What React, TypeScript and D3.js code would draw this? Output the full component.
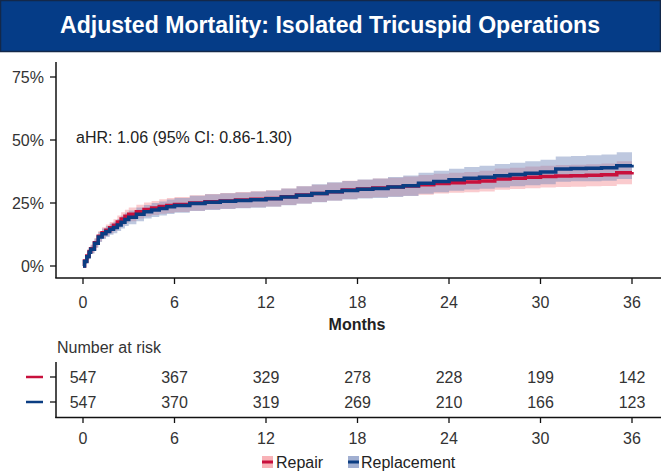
import { useEffect, useRef } from "react"
import * as d3 from "d3"

const W = 661, H = 472

const months = [0, 0.1, 0.25, 0.4, 0.5, 0.75, 1, 1.25, 1.5, 1.75, 2, 2.25, 2.5, 2.75, 3, 3.5, 4, 4.5, 5, 5.5, 6,
  7, 8, 9, 10, 11, 12, 13, 14, 15, 16, 17, 18, 19, 20, 21, 22, 23, 24, 25, 26, 27, 28, 29, 30, 31, 32, 33, 34, 35, 36]

const repair = [0, 0.02, 0.04, 0.058, 0.068, 0.092, 0.118, 0.132, 0.142, 0.152, 0.162, 0.175, 0.187, 0.197, 0.205, 0.215, 0.224, 0.23, 0.236, 0.24, 0.244,
  0.25, 0.255, 0.258, 0.262, 0.265, 0.268, 0.275, 0.282, 0.288, 0.295, 0.302, 0.306, 0.31, 0.313, 0.317, 0.322, 0.327, 0.33, 0.333, 0.337, 0.345, 0.348, 0.352, 0.355, 0.357, 0.358, 0.36, 0.362, 0.37, 0.373]
const repairLo = [0, 0.01, 0.026, 0.042, 0.051, 0.073, 0.097, 0.11, 0.12, 0.13, 0.139, 0.151, 0.162, 0.171, 0.178, 0.188, 0.196, 0.202, 0.207, 0.21, 0.214,
  0.219, 0.224, 0.227, 0.23, 0.233, 0.236, 0.242, 0.248, 0.254, 0.26, 0.266, 0.27, 0.273, 0.276, 0.279, 0.283, 0.288, 0.291, 0.293, 0.296, 0.303, 0.306, 0.309, 0.312, 0.313, 0.314, 0.316, 0.317, 0.324, 0.327]
const repairHi = [0, 0.03, 0.054, 0.074, 0.085, 0.111, 0.139, 0.154, 0.165, 0.175, 0.186, 0.2, 0.213, 0.223, 0.232, 0.243, 0.252, 0.258, 0.265, 0.27, 0.274,
  0.281, 0.286, 0.29, 0.294, 0.297, 0.301, 0.308, 0.316, 0.322, 0.33, 0.338, 0.342, 0.347, 0.35, 0.355, 0.361, 0.366, 0.37, 0.373, 0.378, 0.387, 0.39, 0.395, 0.398, 0.401, 0.402, 0.404, 0.407, 0.416, 0.419]

const replacement = [0, 0.018, 0.037, 0.055, 0.066, 0.09, 0.115, 0.128, 0.137, 0.146, 0.153, 0.163, 0.174, 0.185, 0.193, 0.205, 0.215, 0.222, 0.228, 0.235, 0.24,
  0.248, 0.253, 0.257, 0.26, 0.263, 0.267, 0.274, 0.281, 0.288, 0.295, 0.3, 0.305, 0.308, 0.313, 0.318, 0.328, 0.335, 0.342, 0.348, 0.352, 0.358, 0.363, 0.368, 0.373, 0.385, 0.387, 0.388, 0.39, 0.398, 0.402]
const replacementLo = [0, 0.008, 0.024, 0.04, 0.05, 0.072, 0.095, 0.107, 0.115, 0.124, 0.13, 0.139, 0.149, 0.159, 0.166, 0.178, 0.188, 0.194, 0.2, 0.206, 0.211,
  0.218, 0.222, 0.226, 0.229, 0.231, 0.235, 0.241, 0.247, 0.253, 0.259, 0.264, 0.268, 0.27, 0.274, 0.278, 0.287, 0.293, 0.299, 0.304, 0.307, 0.312, 0.316, 0.32, 0.324, 0.334, 0.336, 0.336, 0.338, 0.345, 0.348]
const replacementHi = [0, 0.028, 0.05, 0.07, 0.082, 0.108, 0.135, 0.149, 0.159, 0.168, 0.176, 0.187, 0.199, 0.211, 0.22, 0.232, 0.242, 0.25, 0.256, 0.264, 0.27,
  0.279, 0.285, 0.289, 0.292, 0.296, 0.3, 0.308, 0.316, 0.324, 0.332, 0.337, 0.343, 0.347, 0.353, 0.359, 0.37, 0.378, 0.386, 0.393, 0.398, 0.405, 0.41, 0.416, 0.422, 0.435, 0.437, 0.439, 0.442, 0.451, 0.455]

const xTicks = [0, 6, 12, 18, 24, 30, 36]
const yTicks = [0, 0.25, 0.5, 0.75]
const riskRepair = [547, 367, 329, 278, 228, 199, 142]
const riskReplacement = [547, 370, 319, 269, 210, 166, 123]

const groups = [
  { name: "Repair", est: repair, lo: repairLo, hi: repairHi, line: "#c8103c", fill: "#f3838a", op: 0.42 },
  { name: "Replacement", est: replacement, lo: replacementLo, hi: replacementHi, line: "#0b3d82", fill: "#6f84b8", op: 0.45 },
]

const font = "'Liberation Sans', Arial, Helvetica, sans-serif"

export default function App() {
  const ref = useRef<SVGSVGElement>(null)

  useEffect(() => {
    const svg = d3.select(ref.current!)
    svg.selectAll("*").remove()
    svg.style("font-family", font)

    // title bar
    svg.append("rect").attr("x", 0.5).attr("y", 0.5).attr("width", W - 1).attr("height", 51)
      .attr("fill", "#053c87").attr("stroke", "#13284a").attr("stroke-width", 1.5)
    svg.append("text").attr("x", 330).attr("y", 33).attr("text-anchor", "middle")
      .attr("fill", "#fff").attr("font-weight", "bold").attr("font-size", 23)
      .attr("textLength", 540).attr("lengthAdjust", "spacingAndGlyphs")
      .text("Adjusted Mortality: Isolated Tricuspid Operations")

    const x = d3.scaleLinear().domain([0, 36]).range([83, 632])
    const y = d3.scaleLinear().domain([0, 0.75]).range([266, 77])

    // confidence bands
    groups.forEach(g => {
      const area = d3.area<number>().curve(d3.curveStepAfter)
        .x((_, i) => x(months[i])).y0((_, i) => y(g.lo[i])).y1((_, i) => y(g.hi[i]))
      svg.append("path").attr("d", area(g.est) || "").attr("fill", g.fill).attr("fill-opacity", g.op)
    })
    groups.forEach(g => {
      const line = d3.line<number>().curve(d3.curveStepAfter)
        .x((_, i) => x(months[i])).y(d => y(d))
      svg.append("path").attr("d", line(g.est) || "").attr("fill", "none")
        .attr("stroke", g.line).attr("stroke-width", 3.5)
    })

    // axes
    const ax = "#111"
    svg.append("line").attr("x1", 56).attr("x2", 56).attr("y1", 62).attr("y2", 278).attr("stroke", ax).attr("stroke-width", 1.5)
    svg.append("line").attr("x1", 55.25).attr("x2", W).attr("y1", 278).attr("y2", 278).attr("stroke", ax).attr("stroke-width", 1.5)
    yTicks.forEach(t => {
      svg.append("line").attr("x1", 50).attr("x2", 56).attr("y1", y(t)).attr("y2", y(t)).attr("stroke", ax).attr("stroke-width", 1.3)
      svg.append("text").attr("x", 44).attr("y", y(t) + 6).attr("text-anchor", "end")
        .attr("font-size", 16).attr("fill", "#333").text(`${Math.round(t * 100)}%`)
    })
    xTicks.forEach(t => {
      svg.append("line").attr("x1", x(t)).attr("x2", x(t)).attr("y1", 278).attr("y2", 284).attr("stroke", ax).attr("stroke-width", 1.3)
      svg.append("text").attr("x", x(t)).attr("y", 308).attr("text-anchor", "middle")
        .attr("font-size", 16).attr("fill", "#333").text(t)
    })
    svg.append("text").attr("x", 357).attr("y", 330).attr("text-anchor", "middle")
      .attr("font-size", 16).attr("font-weight", "bold").attr("fill", "#222").text("Months")

    svg.append("text").attr("x", 76).attr("y", 143).attr("font-size", 16).attr("fill", "#222")
      .text("aHR: 1.06 (95% CI: 0.86-1.30)")

    // risk table
    svg.append("text").attr("x", 57).attr("y", 353).attr("font-size", 16).attr("fill", "#333").text("Number at risk")
    svg.append("line").attr("x1", 56).attr("x2", 56).attr("y1", 362).attr("y2", 418).attr("stroke", ax).attr("stroke-width", 1.5)
    svg.append("line").attr("x1", 55.25).attr("x2", W).attr("y1", 417.5).attr("y2", 417.5).attr("stroke", ax).attr("stroke-width", 1.5)
    const rows = [riskRepair, riskReplacement]
    const rowY = [377, 402]
    rows.forEach((r, j) => {
      svg.append("line").attr("x1", 26).attr("x2", 43).attr("y1", rowY[j]).attr("y2", rowY[j])
        .attr("stroke", groups[j].line).attr("stroke-width", 2.5)
      svg.append("line").attr("x1", 50).attr("x2", 56).attr("y1", rowY[j]).attr("y2", rowY[j]).attr("stroke", ax).attr("stroke-width", 1.3)
      r.forEach((v, i) => {
        svg.append("text").attr("x", x(xTicks[i])).attr("y", rowY[j] + 6).attr("text-anchor", "middle")
          .attr("font-size", 16).attr("fill", "#333").text(v)
      })
    })
    xTicks.forEach(t => {
      svg.append("line").attr("x1", x(t)).attr("x2", x(t)).attr("y1", 417).attr("y2", 423).attr("stroke", ax).attr("stroke-width", 1.3)
      svg.append("text").attr("x", x(t)).attr("y", 444).attr("text-anchor", "middle")
        .attr("font-size", 16).attr("fill", "#333").text(t)
    })

    // legend
    const leg = [{ g: groups[0], sx: 262, tx: 276 }, { g: groups[1], sx: 348, tx: 361 }]
    leg.forEach(({ g, sx, tx }) => {
      svg.append("rect").attr("x", sx).attr("y", 456).attr("width", 11).attr("height", 12)
        .attr("fill", g.fill).attr("fill-opacity", g.op + 0.2)
      svg.append("line").attr("x1", sx).attr("x2", sx + 11).attr("y1", 462).attr("y2", 462)
        .attr("stroke", g.line).attr("stroke-width", 3)
      svg.append("text").attr("x", tx).attr("y", 468).attr("font-size", 16).attr("fill", "#222").text(g.name)
    })
  }, [])

  return (
    <svg ref={ref} width={W} height={H} style={{ position: "absolute", left: 0, top: 0, background: "#fff" }} />
  )
}
